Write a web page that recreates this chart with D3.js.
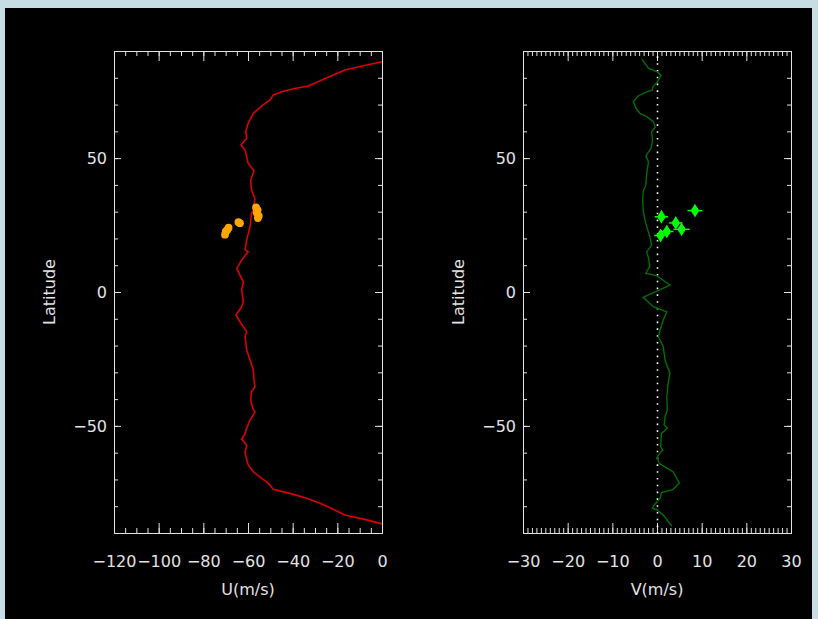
<!DOCTYPE html>
<html>
<head>
<meta charset="utf-8">
<script src="https://cdn.jsdelivr.net/npm/d3@7"></script>
<style>
  html, body { margin: 0; padding: 0; background: #c6dde3; }
  svg { display: block; }
</style>
</head>
<body>
<svg id="chart" width="818" height="619"></svg>
<script>
// ---------- data ----------
// Zonal wind profile U (m/s) vs latitude
const uLat = [86, 84.8, 82.9, 81, 78.9, 76.9, 75.9, 74.8, 73.6, 71.7, 69.8, 66.7, 63, 59.9, 57.4, 54.9, 53, 48, 45.3, 41.8, 38, 35, 30.6, 29.4, 24.4, 19.4, 15.7, 15, 12, 8.8, 6.3, 3.8, 0.7, -3.6, -5.5, -8.6, -11.1, -14.8, -16.7, -21.7, -25.4, -29.1, -32.9, -35.4, -37.2, -40.3, -43.4, -45, -47.8, -50.9, -52.8, -55, -57.1, -60.2, -64.6, -67.1, -69.6, -71.4, -73.7, -75.2, -77, -78.9, -81.1, -83.3, -85.1, -86.6];
const uVal = [0, -6.8, -16.6, -21.8, -27.7, -33, -39.7, -44.9, -48.7, -50.1, -53.4, -57.6, -59.9, -61, -60.6, -63.1, -61.3, -59.9, -57.3, -58.8, -58.4, -56.9, -57.6, -58.4, -59.1, -60.6, -61.3, -59.9, -62.8, -65, -63.6, -62.1, -62.8, -62.1, -62.8, -65.4, -63.6, -60.6, -61.3, -60.6, -59.1, -57.6, -57.3, -56.9, -58.4, -58.8, -57.9, -56.9, -59.1, -60.6, -61.3, -62.8, -60.6, -61.3, -59.9, -57.6, -53.9, -50.9, -48.7, -41.2, -33.7, -27.7, -21.8, -16.6, -6.8, 0];

// Meridional wind profile V (m/s) vs latitude
const vLat = [87, 83.5, 82.3, 81, 78.2, 76.7, 75.4, 74.8, 73.2, 71.1, 68.6, 66.7, 65.5, 63.6, 61.5, 59.9, 56.8, 53.7, 50.8, 48.7, 44.3, 40, 37.5, 34.4, 30.6, 26.9, 24.4, 20.7, 17.5, 15, 12.6, 9.6, 7.0, 6.0, 2.6, -2.0, -5.5, -7.4, -10.5, -14.2, -16.7, -20.4, -25.4, -30.4, -34.1, -39.1, -44.1, -46.6, -49.7, -50.9, -52.8, -57.8, -59, -60.9, -62.1, -64, -65.8, -67.1, -71.4, -73.7, -74.9, -77, -79.9, -80.8, -81.4, -83.3, -87.4];
const vVal = [-3.4, -1.9, 0, 0.9, 0, -0.9, -1.1, -2.2, -4.2, -5.3, -4.7, -3.8, -2.3, -0.8, -0.4, -1.2, -1.0, -1.3, -2.5, -1.9, -2.3, -2.5, -3.1, -3.2, -3.1, -2.7, -2.3, -1.6, -1.2, -2.3, -1.9, -1.6, -2.5, 0, 2.9, -3.1, -0.8, 2.2, 1.4, 0.7, 0.3, 1.4, 1.8, 2.9, 2.5, 2.2, 2.3, 1.8, 1.6, 2.3, 1.0, 0.8, 1.3, 0.3, 0.1, 0.5, 2.2, 3.6, 5.0, 3.6, 1.0, 0.7, -0.8, -1.0, 0, 1.4, 3.3];

// Tracked features
const ptULat = [31.6, 30.6, 29.6, 28.4, 27.6, 26.1, 25.7, 24.0, 23.2, 22.5, 21.4];
const ptUVal = [-56.4, -55.7, -56.1, -55.2, -55.6, -64.3, -63.6, -68.7, -69.3, -70.0, -70.3];

const ptVLat = [30.4, 28.1, 25.8, 23.4, 22.6, 21.1];
const ptVVal = [8.5, 1.0, 4.2, 5.5, 2.2, 0.8];
const ptVErr = [1.7, 1.5, 1.5, 1.8, 1.5, 1.4];

// Tick values
const uMajor = [-120, -100, -80, -60, -40, -20, 0];
const vMajor = [-30, -20, -10, 0, 10, 20, 30];
const latMajor = [-50, 0, 50];

// ---------- drawing ----------
const svg = d3.select('#chart');
const fg = '#e2e2e2';
const font = 'DejaVu Sans, sans-serif';

svg.append('rect').attr('x', 0).attr('y', 0).attr('width', 818).attr('height', 619).attr('fill', '#c6dde3');
svg.append('rect').attr('x', 5).attr('y', 8).attr('width', 807).attr('height', 611).attr('fill', '#000');

const yTop = 51, yBot = 533;
const y = d3.scaleLinear().domain([-90, 90]).range([yBot, yTop]);

function panel(opts) {
  const { x0, x1, domain, major, minorStep, title, id } = opts;
  const x = d3.scaleLinear().domain(domain).range([x0, x1]);
  const g = svg.append('g');

  g.append('clipPath').attr('id', id).append('rect')
    .attr('x', x0).attr('y', yTop).attr('width', x1 - x0).attr('height', yBot - yTop);

  const minor = d3.range(domain[0], domain[1] + 1e-9, minorStep);
  const latMinor = d3.range(-80, 81, 10);

  function styleAxis(sel) {
    sel.select('.domain').remove();
    sel.selectAll('line').attr('stroke', fg).attr('stroke-width', 1);
    sel.selectAll('text').attr('fill', fg).attr('font-family', font).attr('font-size', 16);
  }
  // bottom
  g.append('g').attr('transform', `translate(0,${yBot})`)
    .call(d3.axisBottom(x).tickValues(minor).tickSize(-5).tickFormat('')).call(styleAxis);
  g.append('g').attr('transform', `translate(0,${yBot})`)
    .call(d3.axisBottom(x).tickValues(major).tickSize(-10).tickPadding(23).tickFormat(d3.format('d'))).call(styleAxis);
  // top
  g.append('g').attr('transform', `translate(0,${yTop})`)
    .call(d3.axisTop(x).tickValues(minor).tickSize(-5).tickFormat('')).call(styleAxis);
  g.append('g').attr('transform', `translate(0,${yTop})`)
    .call(d3.axisTop(x).tickValues(major).tickSize(-10).tickFormat('')).call(styleAxis);
  // left
  g.append('g').attr('transform', `translate(${x0},0)`)
    .call(d3.axisLeft(y).tickValues(latMinor).tickSize(-4).tickFormat('')).call(styleAxis);
  g.append('g').attr('transform', `translate(${x0},0)`)
    .call(d3.axisLeft(y).tickValues(latMajor).tickSize(-7).tickPadding(7).tickFormat(d3.format('d'))).call(styleAxis);
  // right
  g.append('g').attr('transform', `translate(${x1},0)`)
    .call(d3.axisRight(y).tickValues(latMinor).tickSize(-4).tickFormat('')).call(styleAxis);
  g.append('g').attr('transform', `translate(${x1},0)`)
    .call(d3.axisRight(y).tickValues(latMajor).tickSize(-7).tickFormat('')).call(styleAxis);

  // frame
  g.append('rect').attr('x', x0 + 0.5).attr('y', yTop + 0.5)
    .attr('width', x1 - x0).attr('height', yBot - yTop)
    .attr('fill', 'none').attr('stroke', fg).attr('stroke-width', 1);

  // titles
  g.append('text').attr('x', (x0 + x1) / 2).attr('y', 595)
    .attr('text-anchor', 'middle').attr('fill', fg).attr('font-family', font).attr('font-size', 16)
    .text(title);
  g.append('text').attr('transform', `translate(${x0 - 59},${y(0)}) rotate(-90)`)
    .attr('text-anchor', 'middle').attr('fill', fg).attr('font-family', font).attr('font-size', 16)
    .text('Latitude');

  return { x, g, clip: `url(#${id})` };
}

// Left panel: U
const L = panel({ x0: 114, x1: 382, domain: [-120, 0], major: uMajor, minorStep: 5, title: 'U(m/s)', id: 'clipL' });
L.g.append('path')
  .datum(d3.range(uLat.length))
  .attr('clip-path', L.clip)
  .attr('fill', 'none').attr('stroke', '#dd0000').attr('stroke-width', 1.6)
  .attr('d', d3.line().x(i => L.x(uVal[i])).y(i => y(uLat[i])));
L.g.selectAll('circle.pu').data(d3.range(ptULat.length)).join('circle')
  .attr('class', 'pu')
  .attr('cx', i => L.x(ptUVal[i])).attr('cy', i => y(ptULat[i])).attr('r', 3.9)
  .attr('fill', '#ffa500');

// Right panel: V
const R = panel({ x0: 523, x1: 791, domain: [-30, 30], major: vMajor, minorStep: 1, title: 'V(m/s)', id: 'clipR' });
R.g.append('line')
  .attr('x1', R.x(0) + 0.5).attr('x2', R.x(0) + 0.5).attr('y1', y(88)).attr('y2', y(-90))
  .attr('stroke', '#ffffff').attr('stroke-width', 1.6).attr('stroke-dasharray', '1.6 5.2');
R.g.append('path')
  .datum(d3.range(vLat.length))
  .attr('clip-path', R.clip)
  .attr('fill', 'none').attr('stroke', '#006e00').attr('stroke-width', 1.4)
  .attr('d', d3.line().x(i => R.x(vVal[i])).y(i => y(vLat[i])));
const idxV = d3.range(ptVLat.length);
R.g.selectAll('line.ev').data(idxV).join('line')
  .attr('class', 'ev')
  .attr('x1', i => R.x(ptVVal[i] - ptVErr[i])).attr('x2', i => R.x(ptVVal[i] + ptVErr[i]))
  .attr('y1', i => y(ptVLat[i])).attr('y2', i => y(ptVLat[i]))
  .attr('stroke', '#00ff00').attr('stroke-width', 1.5);
R.g.selectAll('path.pv').data(idxV).join('path')
  .attr('class', 'pv')
  .attr('transform', i => `translate(${R.x(ptVVal[i])},${y(ptVLat[i])})`)
  .attr('d', d3.symbol(d3.symbolDiamond, 55))
  .attr('fill', '#00ff00');
R.g.selectAll('circle.pv2').data(idxV).join('circle')
  .attr('class', 'pv2')
  .attr('cx', i => R.x(ptVVal[i])).attr('cy', i => y(ptVLat[i])).attr('r', 3.5)
  .attr('fill', '#00ff00');
</script>
</body>
</html>
